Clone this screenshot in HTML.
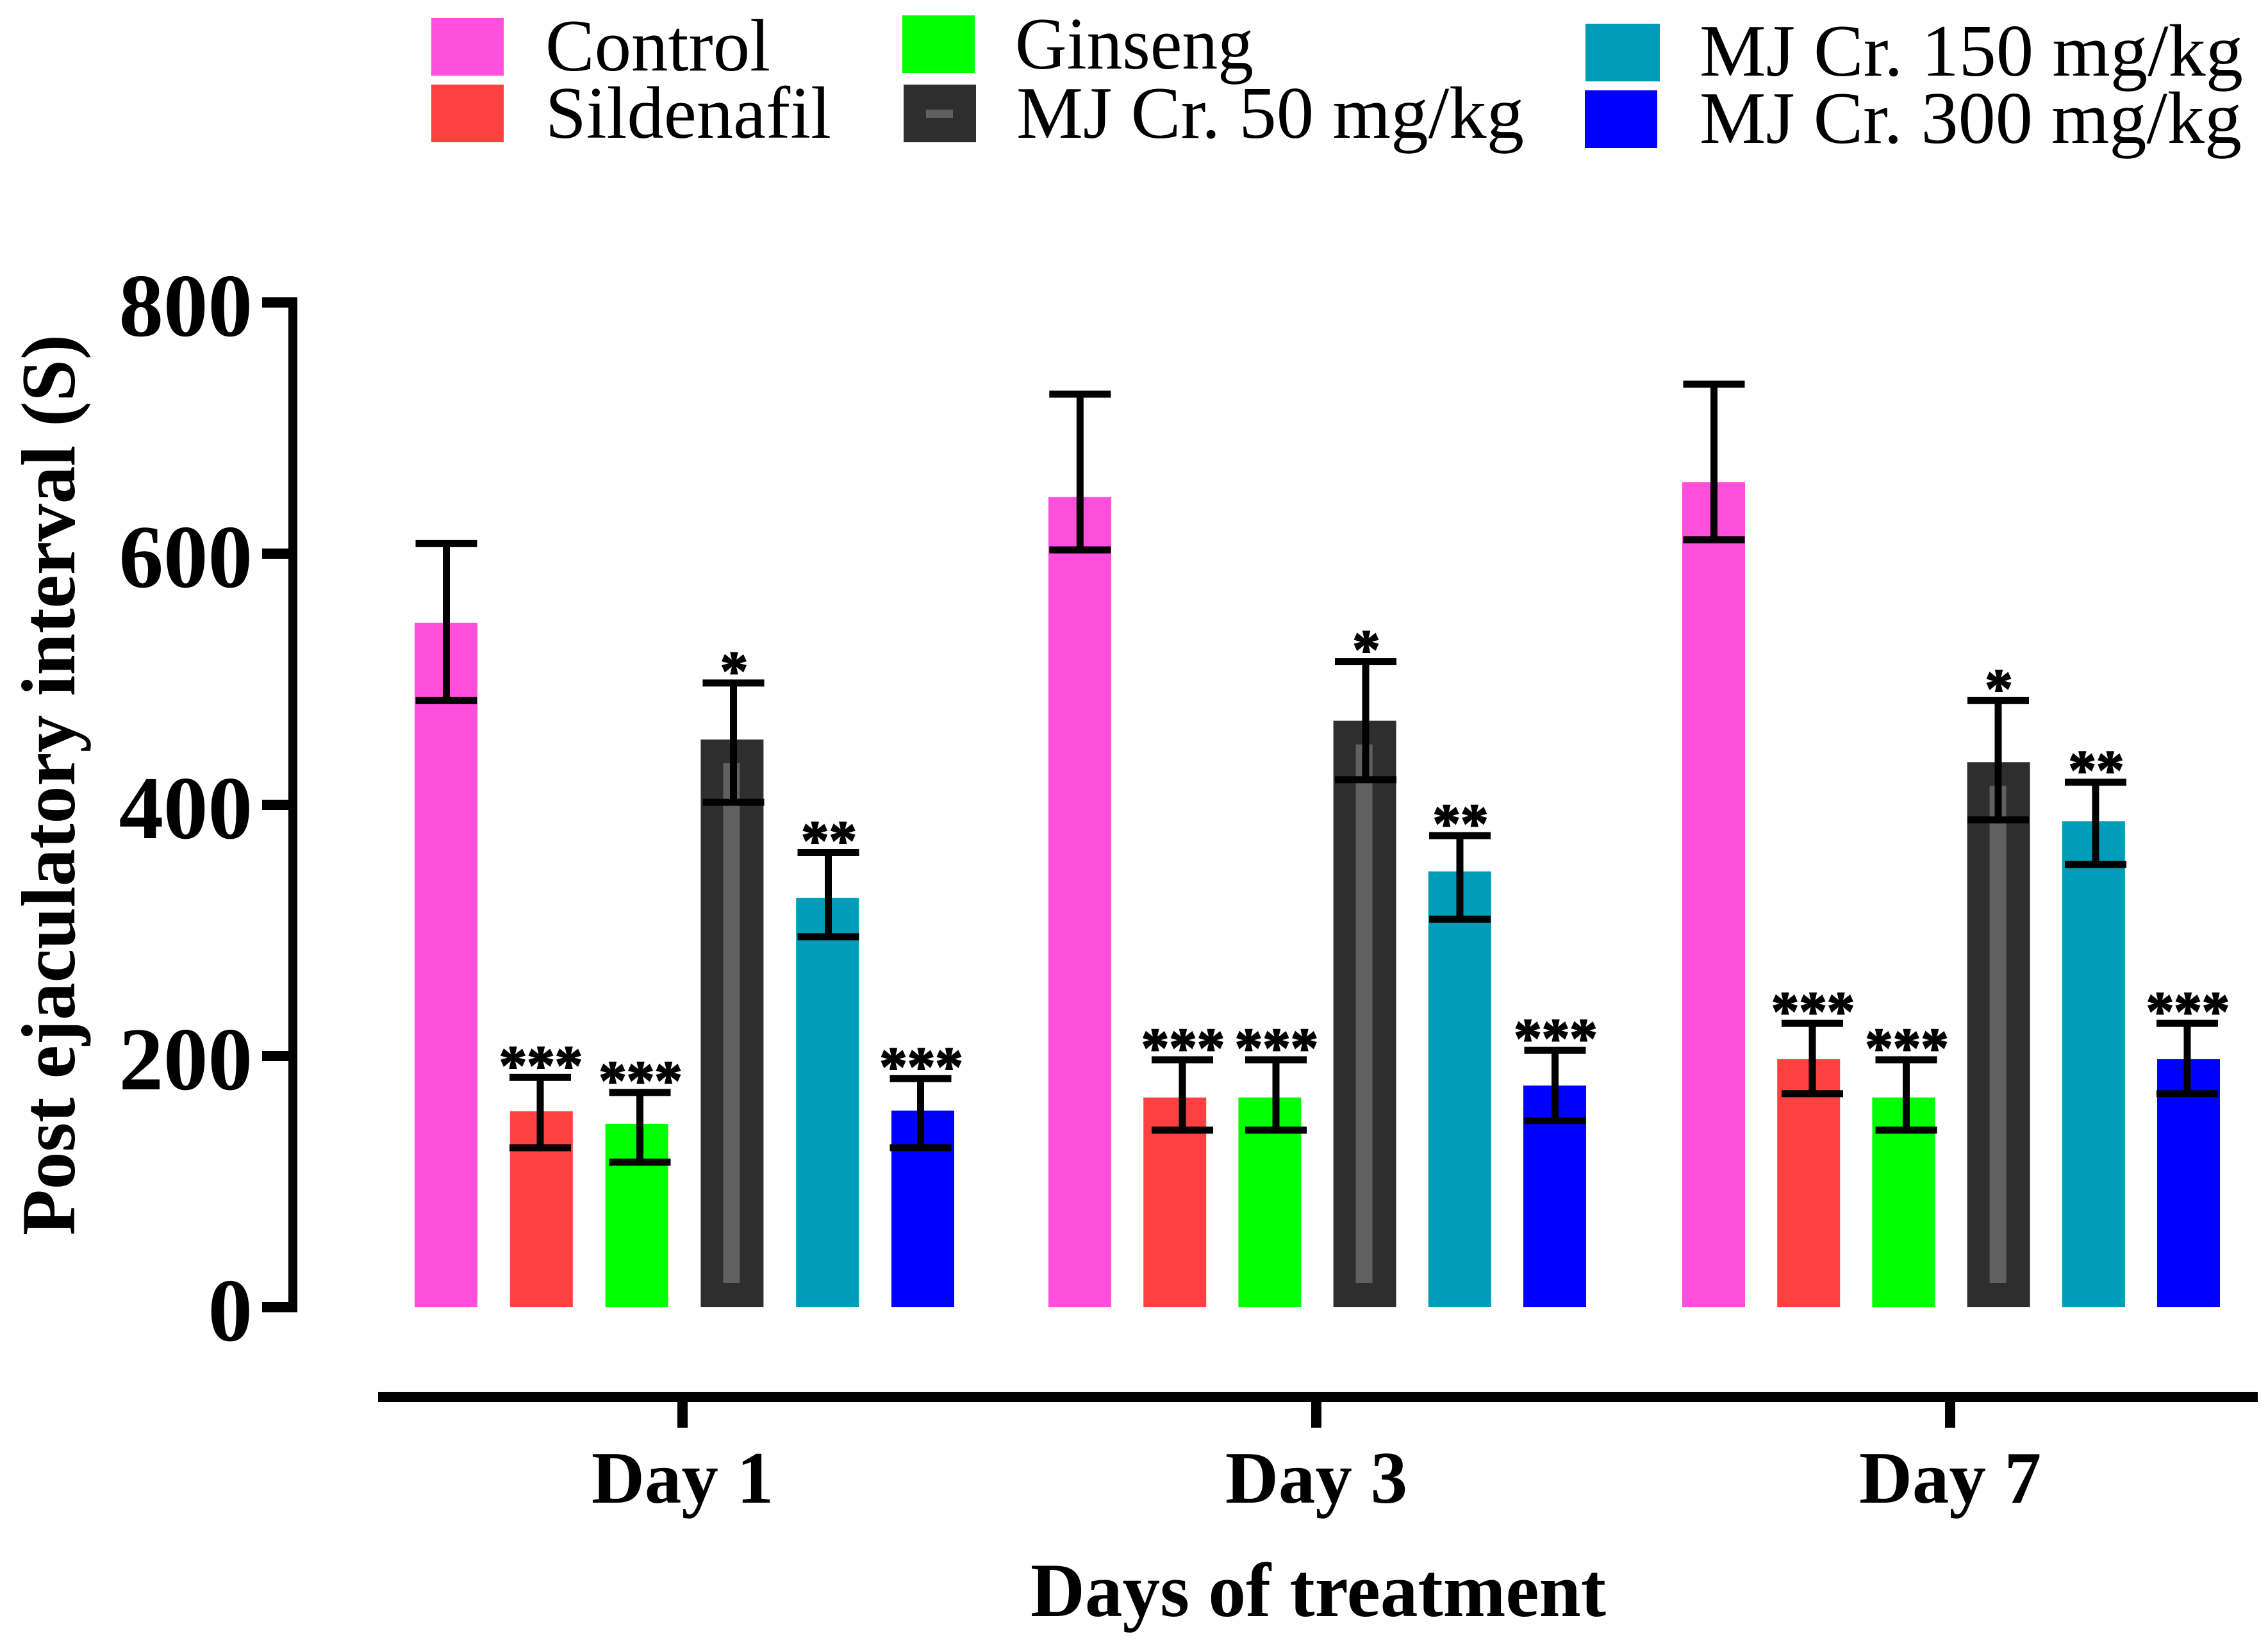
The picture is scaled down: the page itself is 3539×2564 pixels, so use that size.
<!DOCTYPE html>
<html lang="en">
<head>
<meta charset="utf-8">
<title>Post ejaculatory interval by days of treatment</title>
<style>
html,body{margin:0;padding:0;background:#fff;}
svg{display:block;}
text{font-family:"Liberation Serif",serif;fill:#000;}
.b{font-weight:bold;}
</style>
</head>
<body>
<svg id="chart" xmlns="http://www.w3.org/2000/svg" width="3539" height="2564" viewBox="0 0 3539 2564">
  <rect x="0" y="0" width="3539" height="2564" fill="#fff"/>
  <g>
    <g>
      <rect x="673" y="28" width="113" height="90" fill="#ff4fdc"/>
      <text x="851" y="110" font-size="116" textLength="351" lengthAdjust="spacingAndGlyphs">Control</text>
    </g>
    <g>
      <rect x="673" y="132" width="113" height="90" fill="#ff4040"/>
      <text x="851" y="215" font-size="116" textLength="446" lengthAdjust="spacingAndGlyphs">Sildenafil</text>
    </g>
    <g>
      <rect x="1408" y="24" width="113" height="90" fill="#00ff00"/>
      <text x="1584" y="107" font-size="116" textLength="372" lengthAdjust="spacingAndGlyphs">Ginseng</text>
    </g>
    <g>
      <rect x="1410" y="132" width="113" height="90" fill="#2e2e2e"/>
      <rect x="1445" y="171" width="42" height="13" fill="#606060"/>
      <text x="1586" y="215" font-size="116" textLength="792" lengthAdjust="spacingAndGlyphs">MJ Cr. 50 mg/kg</text>
    </g>
    <g>
      <rect x="2474" y="37" width="116" height="90" fill="#009cb8"/>
      <text x="2652" y="118" font-size="116" textLength="848" lengthAdjust="spacingAndGlyphs">MJ Cr. 150 mg/kg</text>
    </g>
    <g>
      <rect x="2473" y="141" width="113" height="90" fill="#0000ff"/>
      <text x="2652" y="223" font-size="116" textLength="846" lengthAdjust="spacingAndGlyphs">MJ Cr. 300 mg/kg</text>
    </g>
  </g>
  <text class="b" transform="translate(116,1928) rotate(-90)" x="0" y="0" font-size="120" textLength="1406" lengthAdjust="spacingAndGlyphs">Post ejaculatory interval (S)</text>
  <text class="b" x="1608" y="2522" font-size="120" textLength="898" lengthAdjust="spacingAndGlyphs">Days of treatment</text>
  <g id="marks"></g>
</svg>
<script>
const categories = ["Day 1", "Day 3", "Day 7"];
const seriesNames = ["control", "sildenafil", "ginseng", "mj-cr-50", "mj-cr-150", "mj-cr-300"];
const yTicks = [0, 200, 400, 600, 800];

const control = [545, 645, 657];
const sildenafil = [156, 167, 197.5];
const ginseng = [146, 167, 167];
const mjCr50 = [452, 467, 434];
const mjCr150 = [326, 347, 387];
const mjCr300 = [156.5, 176.5, 197.5];

const controlUpper = [608, 727, 735];
const sildenafilUpper = [183, 197, 226];
const ginsengUpper = [171, 197, 197];
const mjCr50Upper = [497, 514, 483];
const mjCr150Upper = [362, 375.5, 418];
const mjCr300Upper = [182, 204.5, 226];

const controlLower = [483, 603, 611];
const sildenafilLower = [127, 141, 170];
const ginsengLower = [115.5, 141, 141];
const mjCr50Lower = [402, 420, 388];
const mjCr150Lower = [295, 309, 352.5];
const mjCr300Lower = [127, 148.5, 170];

const controlStars = ["", "", ""];
const sildenafilStars = ["***", "***", "***"];
const ginsengStars = ["***", "***", "***"];
const mjCr50Stars = ["*", "*", "*"];
const mjCr150Stars = ["**", "**", "**"];
const mjCr300Stars = ["***", "***", "***"];

const means = [control, sildenafil, ginseng, mjCr50, mjCr150, mjCr300];
const uppers = [controlUpper, sildenafilUpper, ginsengUpper, mjCr50Upper, mjCr150Upper, mjCr300Upper];
const lowers = [controlLower, sildenafilLower, ginsengLower, mjCr50Lower, mjCr150Lower, mjCr300Lower];
const stars = [controlStars, sildenafilStars, ginsengStars, mjCr50Stars, mjCr150Stars, mjCr300Stars];

(function draw() {
  const NS = "http://www.w3.org/2000/svg";
  const root = document.getElementById("marks");
  const fills = ["#ff4fdc", "#ff4040", "#00ff00", "#2e2e2e", "#009cb8", "#0000ff"];
  const slotPitch = [148.8, 148.2, 148.2];
  const stemShift = [[0.5, -1.8, 4.9, 2.1, 1.3, -3.5], [0.3, 11.8, 9.6, 1.4, 0.2, 0.5], [0.5, 5.8, 4.1, -0.6, 3.2, -2]];
  const y = function (v) { return 2040 - v * 1.96; };
  const barX = function (g, s) { return 647 + g * 989 + s * slotPitch[g]; };
  const barW = 98;

  function rect(parent, x, yy, w, h, fill) {
    const r = document.createElementNS(NS, "rect");
    r.setAttribute("x", x);
    r.setAttribute("y", yy);
    r.setAttribute("width", w);
    r.setAttribute("height", h);
    r.setAttribute("fill", fill);
    parent.appendChild(r);
    return r;
  }
  function label(parent, x, yy, size, str, anchor) {
    const t = document.createElementNS(NS, "text");
    t.setAttribute("x", x);
    t.setAttribute("y", yy);
    t.setAttribute("font-size", size);
    t.setAttribute("text-anchor", anchor);
    t.setAttribute("class", "b");
    t.textContent = str;
    parent.appendChild(t);
    return t;
  }

  // Bars first
  categories.forEach(function (cat, g) {
    means.forEach(function (vals, s) {
      const x = barX(g, s);
      const bar = rect(root, x, y(vals[g]), barW, y(0) - y(vals[g]), fills[s]);
      
      
      if (s === 3) {
        const innerTop = y(vals[g]) + 37;
        const inner = rect(root, x + 35, innerTop, 26, 2002 - innerTop, "#606060");
        
        
      }
    });
  });

  // Error bars and significance stars
  categories.forEach(function (cat, g) {
    means.forEach(function (vals, s) {
      const cx = barX(g, s) + barW / 2 + stemShift[g][s];
      const up = y(uppers[s][g]);
      const lo = y(lowers[s][g]);
      const stem = rect(root, cx - 5.5, up, 11, lo - up, "#000");
      
      
      const capTop = rect(root, cx - 48, up - 5.5, 96, 11, "#000");
      
      
      const capLow = rect(root, cx - 48, lo - 5.5, 96, 11, "#000");
      
      
      if (stars[s][g]) {
        const st = label(root, cx + 1, up + 10, 87, stars[s][g], "middle");
        st.setAttribute("stroke", "#000");
        st.setAttribute("stroke-width", "2");
        
        
      }
    });
  });

  // Y axis
  const yLine = rect(root, 450, y(800) - 8, 14, y(0) - y(800) + 16, "#000");
  
  
  yTicks.forEach(function (v) {
    const tick = rect(root, 409, y(v) - 8, 41, 16, "#000");
    
    
    const t = label(root, 394, y(v) + 52, 140, String(v), "end");
    t.setAttribute("textLength", String(v).length * 69.5);
    t.setAttribute("lengthAdjust", "spacingAndGlyphs");
    
    
  });

  // X axis
  const xLine = rect(root, 590, 2172, 2933, 16, "#000");
  
  
  categories.forEach(function (cat, g) {
    const cx = 1065 + g * 989;
    const tick = rect(root, cx - 8, 2188, 16, 40, "#000");
    
    
    const t = label(root, cx, 2345, 115, cat, "middle");
    
    
  });
})();
</script>
</body>
</html>
